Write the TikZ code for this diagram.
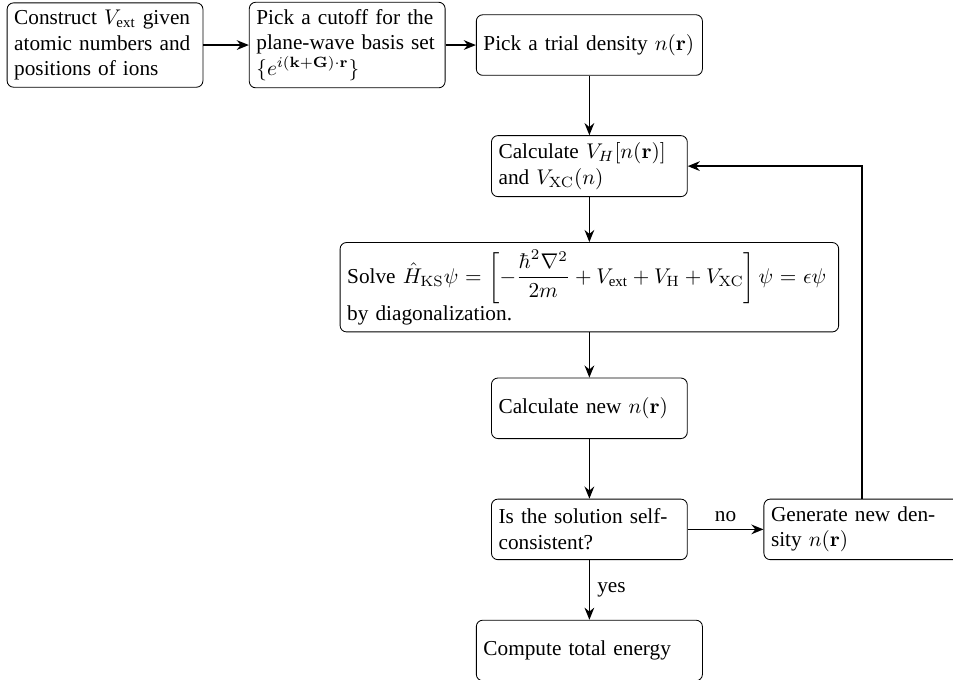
\documentclass[tikz,border=0pt]{standalone}
\usepackage{amsmath}
\usepackage[no-math]{fontspec}
\setmainfont{Liberation Serif}
\usetikzlibrary{positioning, arrows.meta}

\tikzset{
  stepbox/.style={draw, rounded corners=3pt, text width=3cm, minimum height=1cm},
  widebox/.style={stepbox, text width=3.5cm},
  flow/.style={-{Stealth[length=2mm, width=1.6mm]}, thick},
}

\begin{document}
\begin{tikzpicture}
\def\dx{4}
\def\dy{2}
\useasboundingbox (-9.735,-10.48) rectangle (6.006,0.744);

\node[stepbox] (ions) at (-2*\dx,0) {Construct $V_\text{ext}$ given atomic numbers and positions of ions};
\node[stepbox] (cutoff) at (-\dx,0) {Pick a cutoff for the plane-wave basis set $\{e^{i(\mathbf{k}+\mathbf{G})\cdot\mathbf{r}}\}$};
\node[widebox] (trial) at (0,0) {Pick a trial density $n(\mathbf{r})$};
\node[stepbox] (pot) at (0,-\dy) {Calculate $V_H[n(\mathbf{r})]$ and $V_{\mathrm{XC}}(n)$};
\node[stepbox, text width=8cm] (solve) at (0,-2*\dy) {Solve $\hat{H}_{\mathrm{KS}}\psi = \left[-\dfrac{\hbar^2\nabla^2}{2m} + V_\text{ext} + V_{\mathrm{H}} + V_{\mathrm{XC}}\right]\psi = \epsilon\psi$ by diagonalization.};
\node[stepbox] (newn) at (0,-3*\dy) {Calculate new $n(\mathbf{r})$};
\node[stepbox] (check) at (0,-4*\dy) {Is the solution self-consistent?};
\node[stepbox] (mix) at (4.5,-4*\dy) {Generate new density $n(\mathbf{r})$};
\node[widebox] (energy) at (0,-5*\dy) {Compute total energy};

\draw[flow] (ions) -- (cutoff);
\draw[flow] (cutoff) -- (trial);
\draw[flow] (trial) -- (pot);
\draw[flow] (pot) -- (solve);
\draw[flow] (solve) -- (newn);
\draw[flow] (newn) -- (check);
\draw[flow] (check) -- node[above] {no} (mix);
\draw[flow] (check) -- node[right] {yes} (energy);
\draw[flow] (mix) |- (pot);
\end{tikzpicture}
\end{document}
